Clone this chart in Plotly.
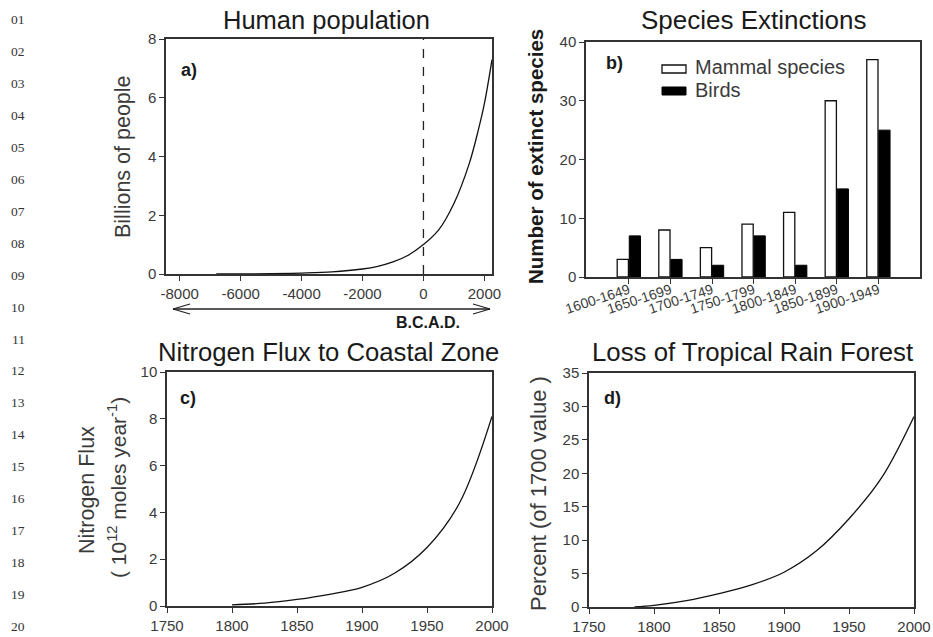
import plotly.graph_objects as go

W, H = 933, 637

# ---------------- data ----------------
# a) Human population (billions) vs year
pop_years = [-6800, -5000, -4000, -3000, -2000, -1500, -1000, -500, 0, 500, 1000, 1500, 1800, 2000, 2250]
pop_values = [0.0, 0.01, 0.03, 0.07, 0.17, 0.26, 0.41, 0.64, 1.0, 1.5, 2.4, 3.75, 4.9, 5.8, 7.3]
pop_xticks = [-8000, -6000, -4000, -2000, 0, 2000]
pop_xlabels = ["-8000", "-6000", "-4000", "-2000", "0", "2000"]

# b) Species extinctions
ext_periods = ["1600-1649", "1650-1699", "1700-1749", "1750-1799", "1800-1849", "1850-1899", "1900-1949"]
mammals = [3, 8, 5, 9, 11, 30, 37]
birds = [7, 3, 2, 7, 2, 15, 25]

# c) Nitrogen flux to coastal zone
n_years = [1800, 1825, 1850, 1875, 1900, 1925, 1950, 1975, 2000]
n_flux = [0.05, 0.12, 0.28, 0.5, 0.8, 1.4, 2.5, 4.4, 8.1]

# d) Loss of tropical rain forest (% of 1700 value)
f_years = [1785, 1800, 1825, 1850, 1875, 1900, 1925, 1950, 1975, 2000]
f_loss = [0.0, 0.25, 0.95, 2.0, 3.3, 5.2, 8.4, 13.2, 19.3, 28.5]

line_numbers = ["%02d" % i for i in range(1, 21)]

# ---------------- helpers ----------------
def px(x):
    return x / W

def py(y):
    return 1 - y / H

FONT = "Liberation Sans, Arial, sans-serif"
TICKC = "#3a3a3a"
AXC = "#333333"

fig = go.Figure()

# a)
fig.add_trace(go.Scatter(x=pop_years, y=pop_values, mode="lines", line=dict(color="#111", width=1.3, shape="spline"),
                         xaxis="x", yaxis="y", showlegend=False))
# b)
idx = list(range(len(ext_periods)))
fig.add_trace(go.Bar(x=idx, y=mammals, width=0.27, offset=-0.28, marker=dict(color="white", line=dict(color="#111", width=1.3)),
                     xaxis="x2", yaxis="y2", showlegend=False))
fig.add_trace(go.Bar(x=idx, y=birds, width=0.27, offset=0.01, marker=dict(color="#000", line=dict(color="#000", width=1)),
                     xaxis="x2", yaxis="y2", showlegend=False))
# c)
fig.add_trace(go.Scatter(x=n_years, y=n_flux, mode="lines", line=dict(color="#111", width=1.3, shape="spline"),
                         xaxis="x3", yaxis="y3", showlegend=False))
# d)
fig.add_trace(go.Scatter(x=f_years, y=f_loss, mode="lines", line=dict(color="#111", width=1.3, shape="spline"),
                         xaxis="x4", yaxis="y4", showlegend=False))

def ax(domain, rng, tickvals, ticktext=None, anchor=None, tickangle=None, fs=15, standoff=None):
    d = dict(domain=domain, range=rng, tickvals=tickvals, showgrid=False, zeroline=False,
             showline=True, linecolor=AXC, linewidth=1.5, mirror=True, ticks="outside", ticklen=5,
             tickcolor=AXC, tickfont=dict(family=FONT, size=fs, color=TICKC), anchor=anchor,
             automargin=False)
    if ticktext is not None:
        d["ticktext"] = ticktext
    if tickangle is not None:
        d["tickangle"] = tickangle
    if standoff is not None:
        d["ticklabelstandoff"] = standoff
    return d

fig.update_layout(
    width=W, height=H, margin=dict(l=0, r=0, t=0, b=0, autoexpand=False),
    paper_bgcolor="white", plot_bgcolor="white", barmode="overlay",
    xaxis=ax([px(166), px(492)], [-8450, 2250], pop_xticks, pop_xlabels, anchor="y"),
    yaxis=ax([py(274), py(39)], [0, 8], [0, 2, 4, 6, 8], anchor="x"),
    xaxis2=ax([px(586), px(920)], [-1.03, 7.0], idx, ext_periods, anchor="y2", tickangle=-18, fs=14, standoff=-7),
    yaxis2=ax([py(277), py(42)], [0, 40], [0, 10, 20, 30, 40], anchor="x2"),
    xaxis3=ax([px(167), px(492)], [1750, 2000], [1750, 1800, 1850, 1900, 1950, 2000], anchor="y3"),
    yaxis3=ax([py(606), py(372)], [0, 10], [0, 2, 4, 6, 8, 10], anchor="x3"),
    xaxis4=ax([px(589), px(914)], [1750, 2000], [1750, 1800, 1850, 1900, 1950, 2000], anchor="y4"),
    yaxis4=ax([py(607), py(373)], [0, 35], [0, 5, 10, 15, 20, 25, 30, 35], anchor="x4"),
)

ann = []
def text(x, y, t, size, color="#1a1a1a", angle=0, bold=False, family=FONT, xanchor="center"):
    if bold:
        t = "<b>" + t + "</b>"
    ann.append(dict(x=px(x), y=py(y), xref="paper", yref="paper", text=t, showarrow=False,
                    font=dict(family=family, size=size, color=color), textangle=angle,
                    xanchor=xanchor, yanchor="middle"))

# titles
text(326, 20, "Human population", 25.5)
text(753, 20, "Species Extinctions", 26)
text(328, 352, "Nitrogen Flux to Coastal Zone", 25.7)
text(752, 352, "Loss of Tropical Rain Forest", 25.8)

# y-axis titles
text(123, 156, "Billions of people", 21.5, color=TICKC, angle=-90)
text(536, 157, "Number of extinct species", 20.5, color="#1a1a1a", angle=-90, bold=True)
text(87, 490, "Nitrogen Flux", 21.5, color=TICKC, angle=-90)
text(117, 488, "( 10<sup>12</sup> moles year<sup>-1</sup>)", 21, color=TICKC, angle=-90)
text(538, 494, "Percent (of 1700 value )", 22, color=TICKC, angle=-90)

# panel labels
text(189, 70, "a)", 18, bold=True)
text(614, 63, "b)", 18, bold=True)
text(188, 398, "c)", 18, bold=True)
text(612, 398, "d)", 18, bold=True)

# B.C. / A.D.
text(428, 322, "B.C.A.D.", 16, bold=True)

# legend text
text(693, 67, "Mammal species", 20, color=TICKC, xanchor="left")
text(693, 90, "Birds", 20, color=TICKC, xanchor="left")

# line numbers
for i, ln in enumerate(line_numbers):
    text(18, 20 + i * 31.9, ln, 13.5, color="#333", family="Liberation Serif, Times New Roman, serif")

fig.update_layout(annotations=ann)

shapes = []
# dashed line at year 0 in panel a
shapes.append(dict(type="line", xref="x", yref="y", x0=0, x1=0, y0=0, y1=8,
                   line=dict(color="#222", width=1.3, dash="dash")))
# double-headed arrow under panel a
def seg(x0, y0, x1, y1, w=1.3):
    shapes.append(dict(type="line", xref="paper", yref="paper", x0=px(x0), y0=py(y0), x1=px(x1), y1=py(y1),
                       line=dict(color="#222", width=w)))
seg(173, 309, 490, 309)
seg(173, 309, 190, 304)
seg(173, 309, 190, 314)
seg(490, 309, 473, 304)
seg(490, 309, 473, 314)
# legend keys
shapes.append(dict(type="rect", xref="paper", yref="paper", x0=px(662), x1=px(686), y0=py(73), y1=py(65),
                   line=dict(color="#111", width=1.3), fillcolor="white"))
shapes.append(dict(type="rect", xref="paper", yref="paper", x0=px(662), x1=px(686), y0=py(95), y1=py(87),
                   line=dict(color="#000", width=1), fillcolor="black"))
fig.update_layout(shapes=shapes)

fig.write_html("out.html", config={"displayModeBar": False},
               post_script="document.body.style.margin='0px';document.body.style.padding='0px';"
                           "document.documentElement.style.overflow='hidden';")
